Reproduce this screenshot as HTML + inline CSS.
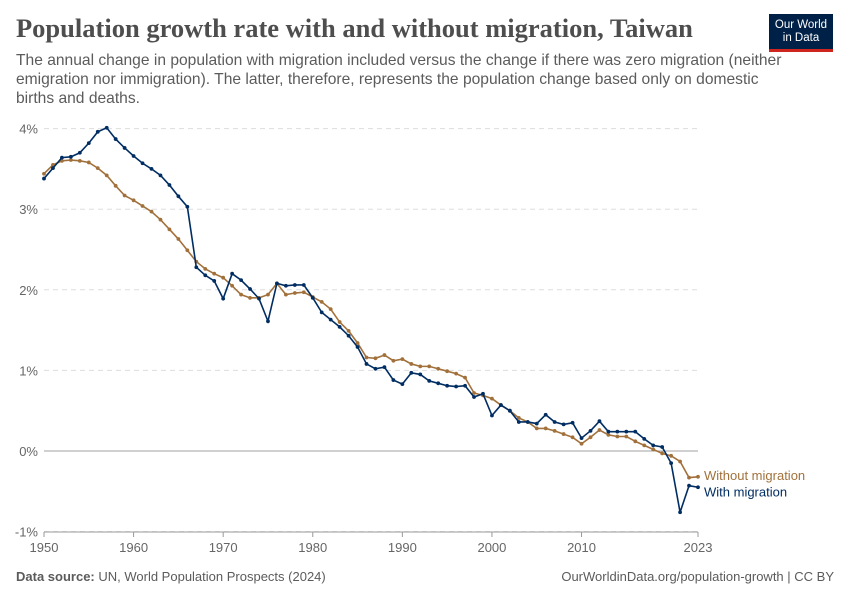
<!DOCTYPE html>
<html><head><meta charset="utf-8"><style>
body{margin:0;width:850px;height:600px;background:#fff;font-family:"Liberation Sans",sans-serif;overflow:hidden;position:relative}
#title{position:absolute;left:16px;top:13px;font-family:"Liberation Serif",serif;font-weight:bold;font-size:26.5px;color:#4e4e4e;margin:0}
#sub{position:absolute;left:16px;top:51px;width:785px;font-size:15.6px;line-height:19px;color:#5b5b5b}
#logo{position:absolute;left:769px;top:14px;width:64px;height:38px;background:#002147;border-bottom:3px solid #ce261e;color:#fff;font-size:11.5px;line-height:13px;text-align:center;padding-top:5px;box-sizing:border-box}
.foot{position:absolute;top:569px;font-size:13px;color:#5b5b5b}
</style></head><body>
<h1 id="title">Population growth rate with and without migration, Taiwan</h1>
<div id="sub">The annual change in population with migration included versus the change if there was zero migration (neither emigration nor immigration). The latter, therefore, represents the population change based only on domestic births and deaths.</div>
<div id="logo">Our World<br>in Data</div>
<div class="foot" style="left:16px"><b>Data source:</b> UN, World Population Prospects (2024)</div>
<div class="foot" style="right:16px">OurWorldinData.org/population-growth | CC BY</div>
<svg id="chart" width="850" height="600" style="position:absolute;left:0;top:0"></svg>
<script>
const years=[];for(let y=1950;y<=2023;y++)years.push(y);
const withMig=[3.38,3.51,3.64,3.65,3.70,3.82,3.96,4.01,3.87,3.76,3.66,3.57,3.50,3.42,3.30,3.16,3.03,2.28,2.18,2.11,1.89,2.20,2.12,2.01,1.89,1.61,2.08,2.05,2.06,2.06,1.90,1.72,1.63,1.54,1.43,1.29,1.08,1.02,1.04,0.88,0.83,0.97,0.95,0.87,0.84,0.81,0.80,0.81,0.67,0.71,0.44,0.57,0.50,0.36,0.36,0.34,0.45,0.36,0.33,0.35,0.16,0.25,0.37,0.24,0.24,0.24,0.24,0.15,0.07,0.05,-0.15,-0.76,-0.43,-0.45];
const withoutMig=[3.44,3.55,3.60,3.61,3.60,3.58,3.51,3.42,3.29,3.17,3.11,3.04,2.97,2.87,2.75,2.63,2.49,2.35,2.26,2.20,2.15,2.05,1.94,1.90,1.90,1.94,2.08,1.94,1.96,1.97,1.91,1.85,1.76,1.60,1.49,1.34,1.16,1.15,1.19,1.12,1.14,1.08,1.05,1.05,1.02,0.99,0.96,0.91,0.72,0.69,0.65,0.57,0.50,0.41,0.36,0.28,0.28,0.25,0.21,0.17,0.09,0.17,0.26,0.20,0.18,0.18,0.12,0.07,0.02,-0.03,-0.06,-0.13,-0.33,-0.32];
const yTicks=[-1,0,1,2,3,4];
const xTicks=[1950,1960,1970,1980,1990,2000,2010,2023];
const NS="http://www.w3.org/2000/svg",svg=document.getElementById('chart');
const X=y=>44+(y-1950)*(654/73), Y=v=>451-v*80.6;
function mk(t,a,p){const e=document.createElementNS(NS,t);for(const k in a)e.setAttribute(k,a[k]);(p||svg).appendChild(e);return e;}
yTicks.forEach(v=>{
 const l=mk('line',{x1:44,x2:698,y1:Y(v),y2:Y(v),stroke:v===0?'#a1a1a1':'#ddd','stroke-dasharray':v===0?'':'5,4'});
 
 
 const t=mk('text',{x:38,y:Y(v)+5,'text-anchor':'end','font-size':13,fill:'#666'});t.textContent=v+'%';
 
 
});
mk('line',{x1:44,x2:698,y1:532,y2:532,stroke:'#999'});
xTicks.forEach(y=>{
 mk('line',{x1:X(y),x2:X(y),y1:532,y2:537,stroke:'#999'});
 const t=mk('text',{x:X(y),y:552,'text-anchor':'middle','font-size':13,fill:'#666'});t.textContent=y;
 
 
});
function series(vals,col,name){
 const g=mk('g',{});
 
 
 mk('polyline',{points:vals.map((v,i)=>X(years[i])+','+Y(v)).join(' '),fill:'none',stroke:col,'stroke-width':1.6},g);
 vals.forEach((v,i)=>{const c=mk('circle',{cx:X(years[i]),cy:Y(v),r:1.9,fill:col},g);
  
  });
}
series(withoutMig,'#a2713b','without-migration-line');
series(withMig,'#002d62','with-migration-line');
const l1=mk('text',{x:704,y:Y(withoutMig[73])+3,'font-size':13,fill:'#a2713b'});l1.textContent='Without migration';


const l2=mk('text',{x:704,y:Y(withMig[73])+9,'font-size':13,fill:'#002d62'});l2.textContent='With migration';


</script>
</body></html>
